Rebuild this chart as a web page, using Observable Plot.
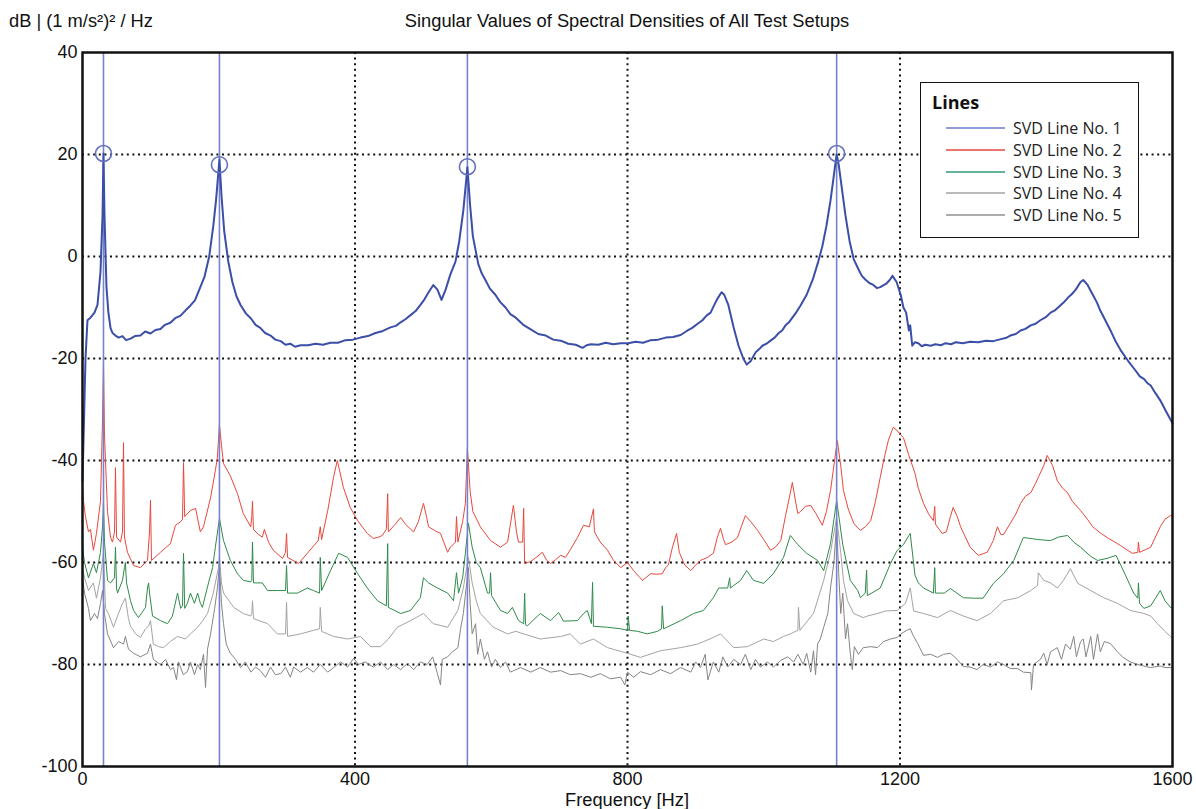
<!DOCTYPE html>
<html>
<head>
<meta charset="utf-8">
<script src="https://cdn.jsdelivr.net/npm/d3@7"></script>
<script src="https://cdn.jsdelivr.net/npm/@observablehq/plot@0.6"></script>
<style>
  body { margin: 0; background: #fff; }
  #wrap { position: relative; width: 1196px; height: 809px; font-family: "Liberation Sans", Arial, sans-serif; }
  .lbl { position: absolute; white-space: nowrap; color: #111; line-height: 1; }
  #legend { position: absolute; background: #fff; border: 1.5px solid #111; font-family: "Open Sans", "Noto Sans", sans-serif; box-sizing: border-box; }
  #legend .ttl { position: absolute; font-weight: 700; font-size: 18px; color: #111; }
  #legend .row { position: absolute; height: 22px; display: flex; align-items: center; }
  #legend svg { margin-right: 8px; display: block; }
  #legend .tx { font-size: 16px; color: #222; }
</style>
</head>
<body>
<div id="wrap"></div>
<script>
// ---------- data (frequency in Hz, level in dB) ----------
const seriesNames = ["SVD Line No. 1", "SVD Line No. 2", "SVD Line No. 3", "SVD Line No. 4", "SVD Line No. 5"];

const svd1 = [[0,-44],[1.5,-36],[4.4,-20],[7.3,-12.5],[11.7,-12],[17.6,-11],[22,-9.5],[26.4,-3],[29.4,8],[30.8,20.2],[32.3,8],[35.2,-6],[38,-11],[41.1,-14],[44,-15],[48.4,-15.5],[53,-15.9],[58.7,-15.6],[64,-16.4],[70.5,-16.1],[77,-15.6],[85,-15.5],[92,-14.7],[99.8,-15.1],[107,-14.4],[114.5,-14.2],[121,-13.4],[129,-13],[136,-12.1],[144,-11.6],[151,-10.6],[158.5,-9.6],[165,-8.6],[170,-7],[179,-4],[186,0],[192,6],[196,11],[201,19],[204,12],[208,5],[214,-1],[220,-5],[226,-7.8],[232,-9.5],[240,-11.2],[247,-12.1],[254,-13.4],[261,-14],[268,-15],[276,-15.5],[283,-16.3],[291,-16.6],[298,-17.3],[305,-17.1],[312,-17.7],[320,-17.4],[331,-17.4],[342,-17.1],[353,-17.3],[364,-16.9],[375,-16.9],[386,-16.4],[397,-16.3],[408,-15.9],[419,-15.6],[430,-15],[441,-14.6],[452,-13.9],[460,-13.6],[467,-12.9],[474,-12.3],[481.5,-11.5],[489,-10.7],[496,-9.5],[502,-8.4],[508,-7],[515,-5.6],[521,-6.5],[527,-8.5],[533,-6.5],[540,-3.5],[547.5,-1],[553,3],[559,9],[565,17.5],[569,10],[573,4],[581,-1.5],[586,-3.3],[591,-4.5],[598,-6.3],[606,-7.5],[613,-8.9],[621,-10],[628,-11.3],[636,-12],[647,-13.4],[658,-14.3],[669,-15.2],[680,-15.5],[691,-16.3],[702,-16.5],[713,-17.1],[724,-17.3],[734,-17.9],[740,-17.4],[746,-17.2],[757,-17.3],[768,-16.9],[779,-17.2],[790,-17],[801,-17],[812,-16.7],[823,-16.9],[834,-16.4],[845,-16.3],[856,-15.9],[867,-15.8],[878,-15.4],[887,-14.6],[895,-14],[903,-13.2],[910,-12.5],[916,-11.6],[922,-11],[931,-8.5],[938,-7],[942,-7.5],[948,-9.5],[956,-14],[963,-17.5],[970,-20],[975,-21.2],[981,-20.5],[988,-18.8],[993,-18.2],[998,-17.5],[1004,-17.1],[1010,-16.5],[1016,-15.9],[1022,-15],[1027,-14.5],[1032,-13.5],[1037,-12.9],[1042,-12],[1048,-10.9],[1054,-9.6],[1063,-7.5],[1072,-4.5],[1080,-1],[1086,2],[1092,6],[1098,11],[1103,16],[1107,20],[1110,18],[1115,13],[1120,8],[1126,3],[1132,-0.5],[1139,-2.5],[1144,-3.8],[1149,-4.5],[1155,-5.2],[1160,-5.5],[1166,-6.2],[1171,-6],[1176,-5.6],[1180,-5.3],[1185,-4.6],[1189,-3.8],[1195,-5],[1201,-7.5],[1205,-10],[1209,-11],[1213,-14.5],[1215,-13.5],[1218,-17.5],[1222,-16.8],[1227,-17],[1232,-17.6],[1237,-17.3],[1245,-17.5],[1252,-17.2],[1260,-17.4],[1267,-17],[1275,-17.2],[1282,-16.8],[1292,-17],[1303,-16.7],[1315,-16.8],[1326,-16.5],[1337,-16.6],[1348,-16.2],[1355,-16],[1362,-15.5],[1370,-15.2],[1377,-14.5],[1384,-14.2],[1392,-13.5],[1399,-13.2],[1406,-12.5],[1414,-11.9],[1421,-11],[1428,-10.5],[1436,-9.5],[1441,-8.9],[1447,-8],[1452,-7.4],[1458,-6.5],[1465,-5],[1469,-4.6],[1475,-5.5],[1483,-7.5],[1489,-9],[1494,-10.6],[1501,-12.4],[1509,-14.5],[1516,-16.5],[1524,-18.4],[1535,-20.5],[1546,-22.4],[1552,-23.5],[1558,-24],[1563,-24.8],[1568,-25.3],[1575,-26.8],[1582,-28.2],[1591,-30.5],[1600,-32.7]];

const svd2 = [[0,-45],[1.5,-48],[4.4,-51],[8.8,-54],[11.7,-53.5],[16,-57.6],[20.5,-54.3],[26.4,-48],[29.4,-32],[30.8,-21],[32.3,-35],[36.7,-50],[41.1,-55],[44,-56],[47,-54],[48.4,-41.4],[50,-55],[55.8,-56],[58.7,-54],[60.2,-36.5],[61.6,-55],[66,-58],[75,-60.6],[85,-61],[95.4,-59.6],[98.4,-54],[99.8,-47.8],[101.3,-59.6],[114.5,-58],[129,-56.3],[136.5,-52.7],[144,-52],[146.8,-51.5],[148.3,-40.4],[150,-51],[158.5,-49.8],[166,-49.4],[173,-54],[177.6,-53],[188,-47.3],[195,-42],[198,-39.4],[201,-33],[204,-37],[207,-40.6],[217,-43],[227.5,-46.5],[236,-50.4],[247,-53],[248.5,-51],[249.5,-48],[251,-53.5],[258,-54.5],[264,-55],[267,-53.5],[273,-56],[280,-57.6],[293.6,-59.2],[298,-58],[299.5,-54.3],[301,-59],[317,-60.2],[330,-58.2],[346,-55.7],[349,-53],[351,-55.5],[360,-49.8],[368.5,-43.3],[374,-40],[383,-45.3],[393,-49.2],[404,-51.8],[418,-54.3],[427,-55.3],[435,-55],[440,-54.7],[446,-53.5],[448,-46.5],[449,-54],[459,-52.5],[467,-51.2],[474,-52.5],[486,-54],[493,-52],[500.5,-48.4],[505,-51],[508,-53],[518,-53.8],[525.5,-54.3],[536,-58],[540,-57],[547.5,-56],[549,-51],[551,-56],[558,-52],[562,-48.4],[565,-37.5],[569,-46],[573,-50],[584,-53],[599,-55.7],[613.6,-57],[624,-56],[632.5,-48.8],[637,-54],[640,-56],[646,-56],[647.6,-49.4],[649,-60.2],[658,-59.8],[666,-59],[675,-58],[681,-59.5],[687,-60.2],[694,-59.5],[702,-58.6],[709,-59],[716,-57.5],[726.6,-55.1],[735.5,-52.7],[744,-53],[750,-49.5],[751.5,-54],[760,-56],[770.7,-57.6],[779,-59.5],[790,-61],[800,-60],[809,-61.6],[822,-63.5],[834,-62.2],[842.6,-62.3],[851,-62.2],[856,-61],[860,-60.5],[866,-57],[872,-54.3],[876,-58],[884,-60.5],[893,-61.6],[900,-60.5],[907,-59.6],[917.5,-59],[926,-58.2],[932,-55],[936.5,-53.3],[941,-55.5],[944,-56.5],[953,-56],[961.5,-55.1],[967,-53],[973,-50.8],[981,-52],[991,-53.7],[1000,-55.5],[1010,-57.6],[1017,-57],[1025,-55.7],[1032,-50.8],[1038,-47],[1042,-44.3],[1046,-47.5],[1050,-50.4],[1054,-50],[1061,-49],[1069,-48.8],[1077,-50.5],[1086,-52.7],[1092,-50],[1098,-45.9],[1104,-40],[1108,-36.1],[1113,-41],[1117,-45.9],[1124,-49.5],[1132,-52.3],[1138,-53.2],[1142,-53.7],[1149,-53],[1157,-51.8],[1164,-48],[1171,-43.3],[1176,-40],[1183,-36],[1190,-33.5],[1195,-34],[1201,-35],[1205,-35.5],[1213,-39],[1222,-42.5],[1227,-45.5],[1234.5,-48.4],[1242,-50.5],[1249,-51.8],[1251,-49],[1252,-52.5],[1262,-54.3],[1268,-54],[1274,-51],[1278,-49.2],[1284,-51],[1289,-53],[1296,-55],[1303,-57],[1315,-58.6],[1328,-58],[1337,-55.7],[1343,-53],[1348,-54.5],[1352,-54.5],[1362,-52.3],[1370,-50.5],[1377,-48.4],[1384,-47],[1392,-46.3],[1399,-44.5],[1403,-43.3],[1411,-41],[1416,-39],[1424,-41],[1431,-44],[1439,-45.5],[1446,-46.3],[1453,-48],[1465,-49.8],[1475,-51.5],[1483,-53],[1494,-54.2],[1504,-55.1],[1513,-55.8],[1524,-56.7],[1533,-57.5],[1541,-58.2],[1549,-58],[1550,-56],[1551.6,-58],[1560,-57.5],[1568,-57],[1575,-55],[1582,-53],[1589,-51.5],[1597,-50.8],[1600,-51]];

const svd3 = [[0,-57],[3,-60],[8.8,-63],[16,-60.2],[20.5,-62],[26.4,-58],[29.4,-53],[30.8,-48],[32.3,-56],[36.7,-63.5],[41.1,-64],[47,-63],[48.4,-57],[50,-65],[51.4,-66],[58.7,-63.5],[61.6,-61],[63,-60],[64.6,-64],[70.5,-67.5],[75,-69.4],[82.2,-70.8],[92.5,-68.8],[95.4,-65],[97,-64],[98.4,-66],[102.8,-70.5],[114.5,-71.4],[124.8,-72],[132,-70.5],[139.5,-66],[144,-69],[146.8,-68.5],[148.3,-58.2],[150,-69],[154,-68],[158.5,-66],[164.4,-68],[169,-66],[173,-68],[176,-68.8],[185,-64],[191,-61],[195,-57],[201,-51.4],[207,-55.7],[217,-59.6],[227.5,-62.2],[236,-63.5],[247,-63.8],[248.5,-63.5],[249.5,-56],[251,-64],[264,-64],[271.6,-65.5],[286,-65.5],[298,-65.5],[299.5,-60.6],[301,-66],[315.6,-66],[330,-65],[339,-65.5],[348,-66],[349,-59],[351,-65.5],[364,-61.6],[376,-58.2],[389,-59],[404,-62.2],[418,-65],[433,-67.5],[446,-68.5],[448,-56.3],[449,-68.8],[467,-70],[481.5,-69.4],[496,-66.9],[500.5,-63],[508,-64],[521,-65],[536,-66],[544.6,-67.5],[549,-62],[552,-66],[558,-63],[562,-58.2],[566.5,-52.3],[572,-57],[578,-60],[584,-61],[594.5,-66],[597.5,-66],[599,-62],[600.5,-66.5],[613.6,-69.4],[624,-70],[631,-68.8],[640,-71.4],[647.6,-72],[649,-66],[650.3,-72.2],[653,-72.4],[672,-70],[687,-71.4],[699,-69.8],[706,-71.5],[726.6,-71.4],[735.5,-70],[741,-69.4],[747,-72],[748.7,-63.9],[750,-72.5],[770.7,-72.7],[790,-73],[800,-73.3],[801,-70.5],[803,-73.3],[815,-73.5],[829,-74],[844,-73.5],[850,-73],[851,-68.5],[853,-73],[878,-71.4],[897,-70],[911.6,-69.4],[926,-66.9],[934,-65],[947,-65],[950,-63],[951,-65],[966,-63.5],[975,-61.6],[985,-63.5],[1000,-64.1],[1014,-62.2],[1029,-59],[1039,-54.7],[1050,-56.5],[1063,-58.2],[1079,-59.6],[1088,-61.6],[1098,-56.3],[1107,-47.8],[1116,-56.5],[1127,-63.5],[1138,-65.5],[1142,-66.9],[1149,-66],[1151,-61.5],[1152,-66.5],[1171,-65],[1186,-60.2],[1196,-57.6],[1205,-56.5],[1213,-54.7],[1215,-54.3],[1222,-62.5],[1227,-64],[1234.5,-65],[1249,-66],[1251,-61],[1252,-66],[1265,-66],[1274,-65.1],[1293,-66.9],[1308,-67],[1322,-67],[1337,-64.1],[1352,-62.2],[1367,-59.6],[1381,-55.1],[1392,-55.3],[1402,-55.5],[1421,-55.7],[1433,-55],[1446,-54.7],[1455,-56],[1465,-57],[1480,-58.8],[1490,-59.6],[1504,-59.2],[1517,-58.6],[1524,-60.5],[1531,-62.5],[1543,-66],[1549,-67],[1550,-64],[1551.6,-68],[1558,-69],[1568,-68.5],[1575,-67],[1582,-65.5],[1589,-67.5],[1597,-68.8],[1600,-69]];

const svd4 = [[0,-61],[3,-63],[8.8,-65.5],[16,-64],[20.5,-67],[26.4,-63],[30.8,-58],[33.8,-69],[38,-70],[45.5,-72.7],[51.4,-70.5],[58.7,-68],[63,-67],[67.5,-71],[70.5,-72.5],[78,-74],[85,-74.7],[92.5,-73],[97,-72.5],[99.8,-71.4],[104,-76],[111.6,-76.5],[119,-76.7],[129,-75.5],[139.5,-74.5],[151,-75],[158.5,-74],[169,-72.7],[176,-71.5],[183.5,-70],[192,-66],[199.6,-61],[201,-59],[204,-64],[207,-66],[222,-68.8],[236,-70],[247,-70.5],[248.5,-70],[249.5,-67.5],[251,-71],[271.6,-72],[286,-74],[298,-74],[299.5,-67.8],[301,-74.5],[320,-74],[339,-73.3],[348,-73],[349,-68.8],[351,-73.5],[368.5,-74.5],[389,-75],[408,-74.5],[423,-76.5],[437.5,-76.5],[449,-75],[462,-72.7],[481.5,-71.4],[500.5,-70],[515,-72],[536,-72.7],[551,-69.4],[559,-65],[566.5,-59],[572,-64],[578,-67.5],[584,-70],[603,-72.7],[624,-74],[636,-73.5],[647.6,-74],[672,-75],[702,-74.5],[716,-74],[731,-76],[750,-75],[770.7,-76.7],[800,-77.8],[819,-78.6],[848.5,-77.3],[878,-76.7],[903,-76],[926,-74.7],[936.5,-74],[956,-76.7],[976,-76.5],[1000,-75],[1014,-75.5],[1029,-74.5],[1039,-74],[1050,-73.3],[1051,-68.8],[1053,-73.3],[1073,-70],[1088,-63.5],[1098,-58],[1107,-51.2],[1113,-58],[1117,-63.5],[1123,-67.5],[1132,-70],[1146,-70.8],[1152,-70.5],[1167,-70],[1179,-69.5],[1196,-69.4],[1208,-68],[1215,-65],[1220,-69.5],[1234.5,-70],[1255,-70.8],[1274,-69.4],[1293,-70.5],[1313,-71.4],[1333,-70],[1352,-67.5],[1373,-66.9],[1392,-65.5],[1402,-64.5],[1403,-62],[1411,-63.5],[1421,-64],[1431,-65],[1440,-63.5],[1450,-61.2],[1461,-64.1],[1480,-65.5],[1499,-66.9],[1519,-68],[1538,-69.4],[1558,-70],[1568,-70.5],[1578,-72],[1589,-73.5],[1597,-74.5],[1600,-75]];

const svd5 = [[0,-63],[3,-66],[8.8,-69],[11.7,-71.4],[17.6,-70],[22,-71],[26.4,-68],[29.4,-65.5],[32.3,-70],[36.7,-74],[45.5,-76.7],[53,-75.5],[60.2,-76],[63,-74.5],[67.5,-77],[75,-77.8],[85,-78.5],[95.4,-77.8],[99.8,-76],[104,-79],[114.5,-80],[122,-79],[129,-81],[133.6,-80.6],[138,-83],[141,-79.5],[148,-82],[154,-81.4],[158.5,-79.5],[164.4,-82],[169,-80],[173,-81],[177.6,-78],[180.6,-84.5],[183.5,-77],[188,-74],[194,-69],[198,-65],[201,-60.6],[204,-68],[207,-72],[211,-76],[217,-77.8],[224.6,-79],[232,-80.6],[239,-79.5],[247,-81.5],[254,-80.5],[261,-81.2],[268.6,-82.5],[276,-80.5],[283,-82],[291,-81.8],[298,-80.5],[305,-82.5],[310,-80.5],[320,-81.5],[330,-80.6],[339,-81.5],[349,-80],[360,-81.5],[368.5,-80.6],[379,-79.5],[389,-80.5],[398,-78.8],[405,-80],[415,-79.5],[427,-80.5],[437.5,-79.5],[448,-81],[456.5,-80],[467,-81],[477,-79.8],[486,-81],[496,-79.5],[506,-80],[514,-78.5],[521,-81.8],[525.5,-84],[528,-79],[536,-78.5],[543,-77.5],[551,-76.7],[555,-73],[559,-70],[564,-64],[566.5,-61],[569,-68],[572,-74],[577,-72],[580,-78],[584,-75],[590,-79],[594.5,-77.5],[600.5,-80.5],[606,-79],[613.6,-80.6],[621,-79.5],[628,-81.5],[643,-80.6],[658,-81.5],[672,-80.6],[687,-81.5],[702,-81.2],[716,-82],[731,-81.8],[746,-82.5],[760,-81.8],[775,-82.8],[790,-82.5],[796,-84],[800,-81.5],[809,-82.5],[819,-81.4],[834,-82],[848.5,-81],[863,-81.8],[878,-80.6],[893,-81.5],[900,-79.5],[907,-80.6],[914,-78],[918,-83],[926,-79.5],[934,-81.5],[940,-78.5],[947,-80.5],[956,-79],[966,-80],[973,-78],[981,-81],[988,-79],[995,-80.5],[1005.5,-79.5],[1014,-80.5],[1025,-79.2],[1035,-78.5],[1044,-79.5],[1050,-78],[1058,-80],[1063,-77.8],[1069,-81.5],[1073,-77.3],[1076,-82],[1079,-76],[1083,-75],[1088,-72.7],[1094,-70],[1098,-65],[1103,-60],[1107,-52.3],[1110,-62],[1113,-70],[1116,-66],[1120,-75],[1123,-72],[1127,-77.8],[1130,-81],[1133,-76.5],[1139,-78],[1146,-76.7],[1157,-76.5],[1167,-76.7],[1176,-75.5],[1186,-75],[1196,-74.7],[1201,-74],[1210,-73.3],[1215,-73],[1220,-74.5],[1226,-75.9],[1234.5,-78.2],[1245,-78],[1255,-78.6],[1264,-78],[1274,-77.8],[1284,-79],[1293,-80.4],[1303,-80.5],[1313,-81],[1322,-80],[1333,-80.5],[1343,-79.5],[1352,-80],[1362,-80.8],[1373,-80.8],[1381,-81.5],[1392,-81.6],[1393,-85],[1396,-80],[1406,-79],[1411,-77.8],[1416,-80],[1421,-77.5],[1431,-76.7],[1437,-79],[1443,-76],[1450,-77],[1455,-74.5],[1459,-78.5],[1465,-75.5],[1469,-75],[1473,-78.5],[1480,-74.5],[1484,-79],[1490,-74],[1494,-77.5],[1500,-75.5],[1509,-75.9],[1519,-77.5],[1527.5,-78.6],[1538,-79.5],[1549,-80],[1558,-80.3],[1568,-80.6],[1582,-80.3],[1589,-80.6],[1600,-80.6]];

// Picked peaks (frequency Hz, level dB)
const peakHz = [30.8, 201, 565, 1107];
const peakDb = [20.2, 18, 17.6, 20.2];

// Axis ticks
const xTicks = [0, 400, 800, 1200, 1600];
const yTicks = [-100, -80, -60, -40, -20, 0, 20, 40];
const gridX = [400, 800, 1200];
const gridY = [-80, -60, -40, -20, 0, 20];

// ---------- styles ----------
const colors = ["#3b4ea8", "#e8473c", "#2f8a4a", "#a3a3a3", "#858585"];
const swatchColors = ["#6b7bcc", "#e8473c", "#2f9a72", "#a3a3a3", "#909090"];
const widths = [2, 1, 1, 1, 1];

const seriesData = [svd1, svd2, svd3, svd4, svd5];
const toRows = (arr, name) => arr.map(([hz, db]) => ({hz, db, name}));
const peaks = peakHz.map((hz, i) => ({hz, db: peakDb[i]}));

const lineMark = (i) => Plot.line(toRows(seriesData[i], seriesNames[i]), {
  x: "hz", y: "db", stroke: colors[i], strokeWidth: widths[i], strokeLinejoin: "round"
});

const chart = Plot.plot({
  width: 1196,
  height: 809,
  marginLeft: 82,
  marginRight: 24,
  marginTop: 52,
  marginBottom: 43,
  style: {fontFamily: "'Liberation Sans', Arial, sans-serif", fontSize: "18px", color: "#111", background: "transparent"},
  x: {domain: [0, 1600], ticks: xTicks, tickSize: 0, tickPadding: 6, label: null, tickFormat: d => String(d)},
  y: {domain: [-100, 40], ticks: yTicks, tickSize: 0, tickPadding: 5, label: null, tickFormat: d => String(d)},
  marks: [
    Plot.ruleY(gridY, {stroke: "#111", strokeWidth: 2, strokeDasharray: "2,3.6"}),
    Plot.ruleX(gridX, {stroke: "#111", strokeWidth: 2, strokeDasharray: "2,3.6"}),
    lineMark(4),
    lineMark(3),
    lineMark(2),
    lineMark(1),
    Plot.ruleX(peaks, {x: "hz", stroke: "#7683cc", strokeWidth: 1.6}),
    lineMark(0),
    Plot.dot(peaks, {x: "hz", y: "db", r: 8, stroke: "#6470bd", strokeWidth: 1.6, fill: "none"}),
    Plot.frame({stroke: "#111", strokeWidth: 2.5})
  ]
});

const wrap = document.getElementById("wrap");
wrap.appendChild(chart);

function addLabel(text, css) {
  const d = document.createElement("div");
  d.className = "lbl";
  d.textContent = text;
  Object.assign(d.style, css);
  wrap.appendChild(d);
  return d;
}
addLabel("dB | (1 m/s²)² / Hz", {left: "9px", top: "12px", fontSize: "18.3px"});
addLabel("Singular Values of Spectral Densities of All Test Setups", {left: "627px", top: "12px", fontSize: "18.3px", transform: "translateX(-50%)"});
addLabel("Frequency [Hz]", {left: "627px", top: "791px", fontSize: "18.3px", transform: "translateX(-50%)"});

// Legend
const lg = document.createElement("div");
lg.id = "legend";
Object.assign(lg.style, {left: "920px", top: "82px", width: "219px", height: "156px"});
const ttl = document.createElement("div");
ttl.className = "ttl";
ttl.textContent = "Lines";
Object.assign(ttl.style, {left: "11px", top: "7px"});
lg.appendChild(ttl);
const svgNS = "http://www.w3.org/2000/svg";
seriesNames.forEach((n, i) => {
  const r = document.createElement("div");
  r.className = "row";
  Object.assign(r.style, {left: "25px", top: (34 + i * 21.8) + "px"});
  const sw = document.createElementNS(svgNS, "svg");
  sw.setAttribute("width", "59");
  sw.setAttribute("height", "6");
  const ln = document.createElementNS(svgNS, "line");
  ln.setAttribute("x1", "0"); ln.setAttribute("x2", "59");
  ln.setAttribute("y1", "3"); ln.setAttribute("y2", "3");
  ln.setAttribute("stroke", swatchColors[i]);
  ln.setAttribute("stroke-width", "1.6");
  sw.appendChild(ln);
  const tx = document.createElement("div");
  tx.className = "tx";
  tx.textContent = n;
  r.appendChild(sw); r.appendChild(tx);
  lg.appendChild(r);
});
wrap.appendChild(lg);
</script>
</body>
</html>
